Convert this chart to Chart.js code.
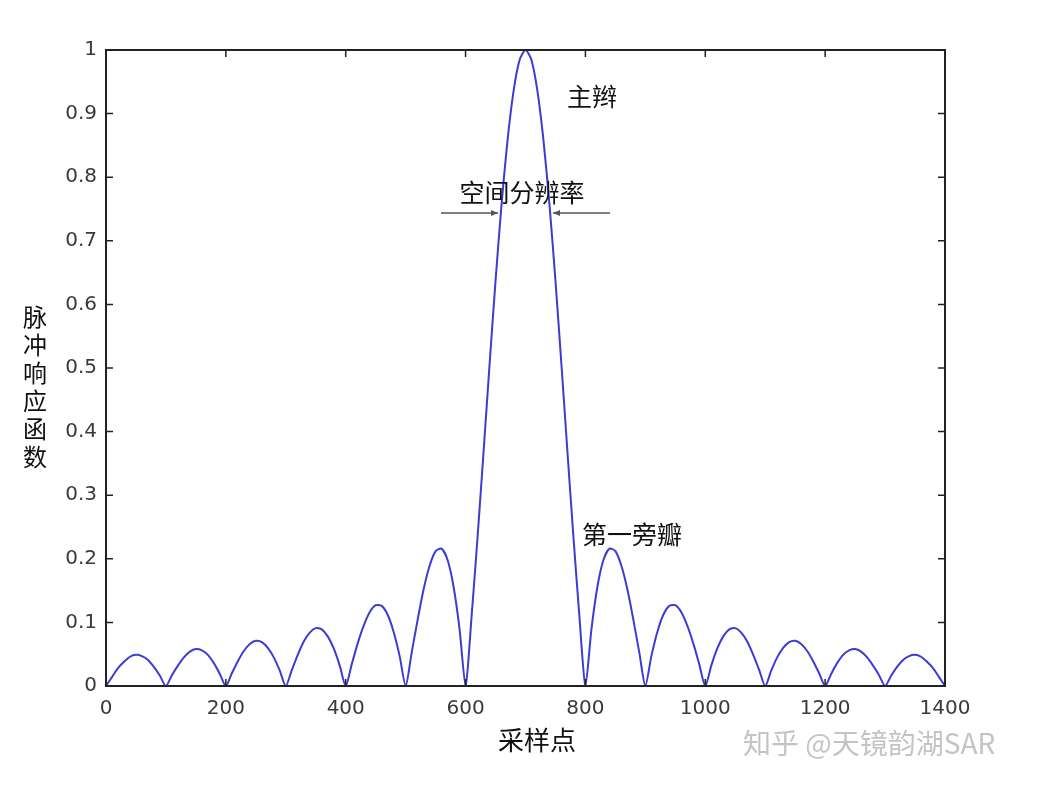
<!DOCTYPE html>
<html>
<head>
<meta charset="utf-8">
<script src="https://cdn.jsdelivr.net/npm/chart.js@4/dist/chart.umd.min.js"></script>
<style>
  html, body { margin: 0; padding: 0; background: #fff; }
  #wrap { width: 1048px; height: 788px; position: relative; }
</style>
</head>
<body>
<div id="wrap"><canvas id="chartSinc"></canvas></div>
<script>
// sample spacing along the x axis (采样点)
var sampleStep = 10;

// |response|, one value every 10 samples, from 0 to 1400
var response = [
  0.000, 0.014, 0.028, 0.038, 0.046, 0.049, 0.047, 0.041, 0.030, 0.016,
  0.000, 0.017, 0.032, 0.045, 0.054, 0.058, 0.056, 0.049, 0.036, 0.019,
  0.000, 0.020, 0.039, 0.055, 0.066, 0.071, 0.069, 0.060, 0.045, 0.024,
  0.000, 0.025, 0.049, 0.070, 0.084, 0.091, 0.089, 0.078, 0.059, 0.032,
  0.000, 0.034, 0.067, 0.095, 0.116, 0.127, 0.126, 0.112, 0.085, 0.047,
  0.000, 0.052, 0.104, 0.152, 0.189, 0.212, 0.216, 0.198, 0.156, 0.089,
  0.000, 0.109, 0.234, 0.368, 0.505, 0.637, 0.757, 0.858, 0.935, 0.984,
  1.000,
  0.984, 0.935, 0.858, 0.757, 0.637, 0.505, 0.368, 0.234, 0.109, 0.000,
  0.089, 0.156, 0.198, 0.216, 0.212, 0.189, 0.152, 0.104, 0.052, 0.000,
  0.047, 0.085, 0.112, 0.126, 0.127, 0.116, 0.095, 0.067, 0.034, 0.000,
  0.032, 0.059, 0.078, 0.089, 0.091, 0.084, 0.070, 0.049, 0.025, 0.000,
  0.024, 0.045, 0.060, 0.069, 0.071, 0.066, 0.055, 0.039, 0.020, 0.000,
  0.019, 0.036, 0.049, 0.056, 0.058, 0.054, 0.045, 0.032, 0.017, 0.000,
  0.016, 0.030, 0.041, 0.047, 0.049, 0.046, 0.038, 0.028, 0.014, 0.000
];

var xTicks = [0, 200, 400, 600, 800, 1000, 1200, 1400];
var yTicks = [0, 0.1, 0.2, 0.3, 0.4, 0.5, 0.6, 0.7, 0.8, 0.9, 1];
var yTickLabels = ["0", "0.1", "0.2", "0.3", "0.4", "0.5", "0.6", "0.7", "0.8", "0.9", "1"];

var xTitle = "采样点";
var yTitle = "脉冲响应函数";
var mainLobeLabel = "主辫";
var resolutionLabel = "空间分辨率";
var sideLobeLabel = "第一旁瓣";
var watermark = "知乎 @天镜韵湖SAR";

var cjk = '"Noto Sans CJK SC", sans-serif';

var points = response.map(function (v, i) {
  return { x: i * sampleStep, y: v };
});

function arrow(ctx, x1, x2, y) {
  // line from x1 to x2 with a small head at x2
  var dir = x2 > x1 ? 1 : -1;
  ctx.beginPath();
  ctx.moveTo(x1, y);
  ctx.lineTo(x2, y);
  ctx.stroke();
  ctx.beginPath();
  ctx.moveTo(x2, y);
  ctx.lineTo(x2 - dir * 7, y - 3);
  ctx.lineTo(x2 - dir * 7, y + 3);
  ctx.closePath();
  ctx.fill();
}

var matlabFrame = {
  id: 'matlabFrame',
  afterDatasetsDraw: function (chart) {
    var ctx = chart.ctx,
        a = chart.chartArea,
        xs = chart.scales.x,
        ys = chart.scales.y;

    ctx.save();
    ctx.strokeStyle = "#222";
    ctx.lineWidth = 2;
    ctx.strokeRect(a.left, a.top, a.right - a.left, a.bottom - a.top);

    // inward ticks on all four sides
    ctx.lineWidth = 1.5;
    ctx.beginPath();
    xTicks.forEach(function (t) {
      var px = xs.getPixelForValue(t);
      ctx.moveTo(px, a.bottom); ctx.lineTo(px, a.bottom - 7);
      ctx.moveTo(px, a.top); ctx.lineTo(px, a.top + 7);
    });
    yTicks.forEach(function (t) {
      var py = ys.getPixelForValue(t);
      ctx.moveTo(a.left, py); ctx.lineTo(a.left + 7, py);
      ctx.moveTo(a.right, py); ctx.lineTo(a.right - 7, py);
    });
    ctx.stroke();

    // axis titles
    ctx.fillStyle = "#111";
    ctx.font = "26px " + cjk;
    ctx.textAlign = "center";
    ctx.textBaseline = "middle";
    ctx.fillText(xTitle, 537, 740);
    ctx.font = "24px " + cjk;
    for (var i = 0; i < yTitle.length; i++) {
      ctx.fillText(yTitle[i], 35, 317 + i * 28);
    }

    // annotations
    ctx.textAlign = "left";
    ctx.font = "25px " + cjk;
    ctx.fillText(mainLobeLabel, 567, 96);
    ctx.fillText(sideLobeLabel, 582, 534);
    ctx.textAlign = "center";
    ctx.fillText(resolutionLabel, 522, 192);

    ctx.strokeStyle = "#555";
    ctx.fillStyle = "#555";
    ctx.lineWidth = 1.5;
    arrow(ctx, 441, 498, 213);
    arrow(ctx, 610, 553, 213);

    // watermark
    ctx.fillStyle = "#c4c4c4";
    ctx.font = "28px " + cjk;
    ctx.textAlign = "left";
    ctx.fillText(watermark, 743, 743);
    ctx.restore();
  }
};

var chartSinc = new Chart(document.getElementById("chartSinc"), {
  type: 'line',
  data: {
    datasets: [{
      label: "impulse response",
      data: points,
      borderColor: "#3c3cd2",
      borderWidth: 2,
      pointRadius: 0,
      tension: 0.25,
      fill: false
    }]
  },
  plugins: [matlabFrame],
  options: {
    responsive: true,
    maintainAspectRatio: false,
    animation: false,
    layout: {
      padding: { left: 0, right: 103, top: 50, bottom: 0 }
    },
    plugins: {
      legend: { display: false },
      tooltip: { enabled: false }
    },
    scales: {
      x: {
        type: 'linear',
        min: 0,
        max: 1400,
        afterFit: function (scale) { scale.height = 102; },
        afterBuildTicks: function (scale) {
          scale.ticks = xTicks.map(function (v) { return { value: v }; });
        },
        grid: { display: false, drawTicks: false },
        border: { display: false },
        ticks: {
          padding: 11,
          maxRotation: 0,
          color: "#3a3a3a",
          font: { family: '"DejaVu Sans", sans-serif', size: 20 },
          callback: function (value) { return String(value); }
        }
      },
      y: {
        type: 'linear',
        min: 0,
        max: 1,
        afterFit: function (scale) { scale.width = 106; },
        afterBuildTicks: function (scale) {
          scale.ticks = yTicks.map(function (v) { return { value: v }; });
        },
        grid: { display: false, drawTicks: false },
        border: { display: false },
        ticks: {
          padding: 9,
          color: "#3a3a3a",
          font: { family: '"DejaVu Sans", sans-serif', size: 20 },
          callback: function (value, index) { return yTickLabels[index]; }
        }
      }
    }
  }
});
</script>
</body>
</html>
